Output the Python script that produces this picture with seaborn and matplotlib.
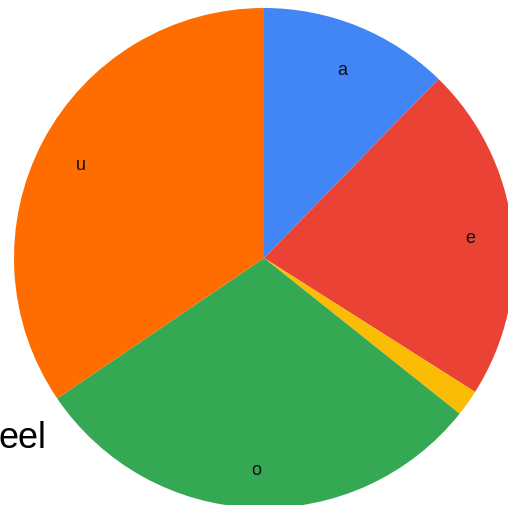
import matplotlib
matplotlib.use("Agg")
import matplotlib.pyplot as plt
import matplotlib.transforms as mtransforms
import seaborn as sns

categories = ["a", "e", "i", "o", "u"]
values = [12.3, 21.7, 1.7, 29.8, 34.5]
shown_labels = ["a", "e", "", "o", "u"]
colors = ["#4285F4", "#EA4335", "#FBBC04", "#34A853", "#FF6D01"]
title_text = "eel"

sns.set_theme(style="white")
plt.rcParams["font.family"] = ["Liberation Sans", "DejaVu Sans"]

W, H = 508, 505
fig = plt.figure(figsize=(W / 100, H / 100), dpi=100)
cx, cy, r = 264, 258, 250
ax = fig.add_axes([(cx - r) / W, (H - cy - r) / H, 2 * r / W, 2 * r / H])
wedges, texts = ax.pie(values, labels=shown_labels, colors=colors, startangle=90,
                       counterclock=False, labeldistance=0.83, radius=1.0,
                       textprops=dict(fontsize=13, color="#111111", ha="center", va="center"),
                       wedgeprops=dict(linewidth=0))
for t in texts:
    t.set_transform(t.get_transform() + mtransforms.ScaledTranslation(0, -5 / 100, fig.dpi_scale_trans))
ax.set_xlim(-1, 1)
ax.set_ylim(-1, 1)
ax.axis("off")

fig.text(-0.002, (H - 448) / H, title_text, fontsize=26, color="#000000",
         ha="left", va="baseline")

fig.savefig("out.png", dpi=100)
